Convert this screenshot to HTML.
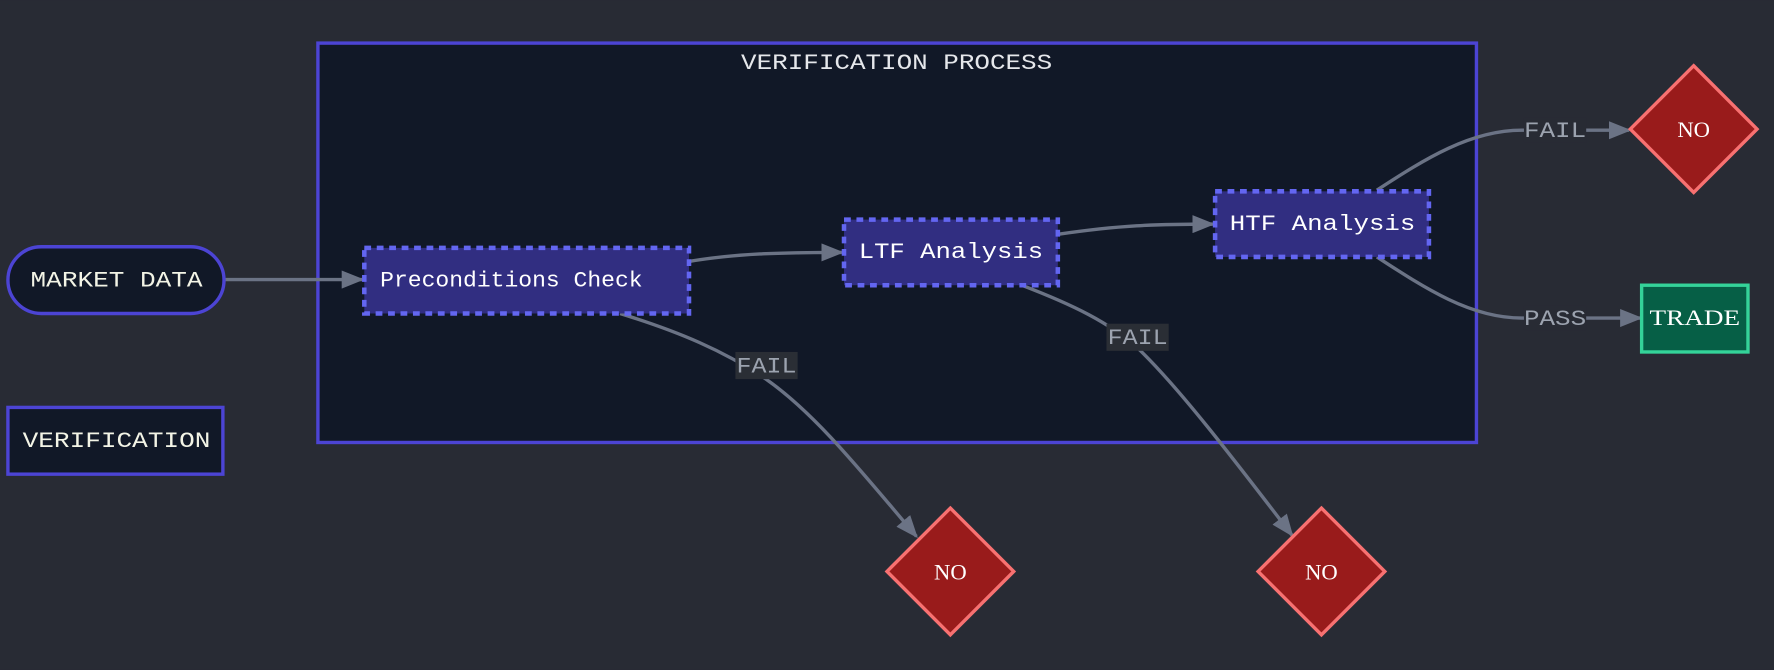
<!DOCTYPE html>
<html><head><meta charset="utf-8"><style>
html,body{margin:0;padding:0;background:#282b34;}
svg{display:block}
.m{font-family:"Courier New","Nimbus Mono PS","FreeMono","Liberation Mono",monospace;}
.s{font-family:"Liberation Serif",serif;}
</style></head><body>
<svg width="1774" height="670" viewBox="0 0 1568 592" xmlns="http://www.w3.org/2000/svg">
<defs>
<marker id="ar" markerWidth="20" markerHeight="16" refX="18" refY="8" orient="auto" markerUnits="userSpaceOnUse"><path d="M0,0 L20,8 L0,16 z" fill="#6b7385"/></marker>
</defs>
<rect width="1568" height="592" fill="#282b34"/>
<rect x="281" y="38" width="1024" height="353" fill="#111827" stroke="#4c44d4" stroke-width="3"/>
<text x="655" y="61" textLength="275" lengthAdjust="spacingAndGlyphs" class="m" font-size="20" fill="#e5e7eb">VERIFICATION PROCESS</text>

<g fill="none" stroke="#6b7385" stroke-width="3">
<path d="M199,247 L320,247" marker-end="url(#ar)"/>
<path d="M609,231 C650,224 690,223 744,223" marker-end="url(#ar)"/>
<path d="M935,207 C990,199 1020,198 1072,198" marker-end="url(#ar)"/>
<path d="M548,277 C600,293 640,310 677,335 C720,365 760,415 810,474" marker-end="url(#ar)"/>
<path d="M903,252 C950,270 980,285 1005,307 C1040,340 1090,405 1142,473" marker-end="url(#ar)"/>
<path d="M1217,168 C1260,140 1300,115 1345,115 L1440,115" marker-end="url(#ar)"/>
<path d="M1217,227 C1260,255 1300,281 1345,281 L1450,281" marker-end="url(#ar)"/>
</g>

<g class="m" font-size="20" fill="#9ca3af">
<rect x="650" y="311" width="55" height="24" fill="#2a2e35"/><text x="651" y="329" textLength="53" lengthAdjust="spacingAndGlyphs">FAIL</text>
<rect x="978" y="286" width="55" height="24" fill="#2a2e35"/><text x="979" y="304" textLength="53" lengthAdjust="spacingAndGlyphs">FAIL</text>
<rect x="1347" y="104" width="55" height="22" fill="#282b34"/><text x="1347" y="121" textLength="55" lengthAdjust="spacingAndGlyphs">FAIL</text>
<rect x="1347" y="270" width="55" height="22" fill="#282b34"/><text x="1347" y="287" textLength="55" lengthAdjust="spacingAndGlyphs">PASS</text>
</g>

<rect x="7" y="218" width="191" height="59" rx="29.5" fill="#111827" stroke="#4c44d4" stroke-width="3"/>
<text x="27" y="253" textLength="152" lengthAdjust="spacingAndGlyphs" class="m" font-size="20" fill="#f3f4e6">MARKET DATA</text>
<rect x="7" y="360" width="190" height="59" fill="#111827" stroke="#4c44d4" stroke-width="3"/>
<text x="20" y="395" textLength="166" lengthAdjust="spacingAndGlyphs" class="m" font-size="20" fill="#f3f4e6">VERIFICATION</text>

<g stroke="#6366f1" stroke-width="4" stroke-dasharray="6,5" fill="#312e81">
<rect x="322" y="219" width="287" height="58"/>
<rect x="746" y="194" width="189" height="58"/>
<rect x="1074" y="169" width="189" height="58"/>
</g>
<g class="m" font-size="20" fill="#ffffff">
<text x="336" y="253" textLength="232" lengthAdjust="spacingAndGlyphs">Preconditions Check</text>
<text x="759" y="228" textLength="163" lengthAdjust="spacingAndGlyphs">LTF Analysis</text>
<text x="1087" y="203" textLength="164" lengthAdjust="spacingAndGlyphs">HTF Analysis</text>
</g>

<g fill="#991b1b" stroke="#f87171" stroke-width="3">
<polygon points="1497,58 1553,114 1497,170 1441,114"/>
<polygon points="840,449 896,505 840,561 784,505"/>
<polygon points="1168,449 1224,505 1168,561 1112,505"/>
</g>
<g class="s" font-size="20" fill="#ffffff" text-anchor="middle">
<text x="1497" y="121">NO</text>
<text x="840" y="512">NO</text>
<text x="1168" y="512">NO</text>
</g>
<rect x="1451" y="252" width="94" height="59" fill="#065f46" stroke="#34d399" stroke-width="3"/>
<text x="1458" y="287" textLength="80" lengthAdjust="spacingAndGlyphs" class="s" font-size="20" fill="#ffffff">TRADE</text>
</svg>
</body></html>
